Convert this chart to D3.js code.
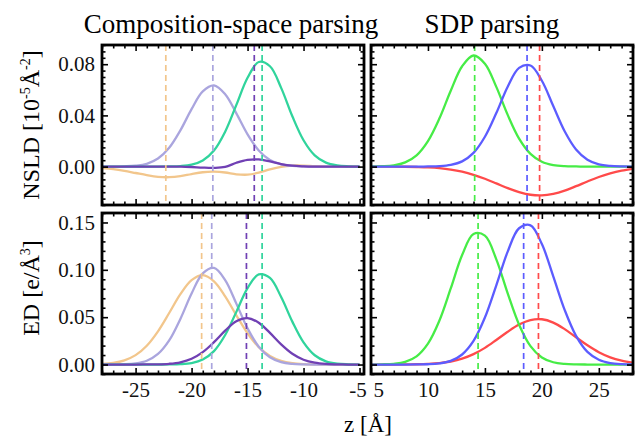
<!DOCTYPE html>
<html>
<head>
<meta charset="utf-8">
<script src="https://cdn.jsdelivr.net/npm/d3@7"></script>
<style>
  body { margin: 0; background: #fff; }
</style>
</head>
<body>
<svg id="chart"></svg>
<script>
// z grid of the sampled profiles (1 Å steps)
const zLeft = [-28, -27, -26, -25, -24, -23, -22, -21, -20, -19, -18, -17, -16, -15, -14, -13, -12, -11, -10, -9, -8, -7, -6, -5];
const zRight = [5, 6, 7, 8, 9, 10, 11, 12, 13, 14, 15, 16, 17, 18, 19, 20, 21, 22, 23, 24, 25, 26, 27, 28];

// NSLD, composition-space parsing (left top)
const nsldOrange = [-0.0012, -0.0020, -0.0033, -0.0050, -0.0067, -0.0080, -0.0083, -0.0075, -0.0058, -0.0044, -0.0040, -0.0046, -0.0060, -0.0063, -0.0048, -0.0022, -0.0002, 0.0008, 0.0008, 0.0003, 0, 0, 0, 0];
const nsldLightPurple = [0, 0, 0.0002, 0.0007, 0.0022, 0.0063, 0.0147, 0.0283, 0.0449, 0.0587, 0.0634, 0.0565, 0.0416, 0.0252, 0.0126, 0.0052, 0.0018, 0.0005, 0.0001, 0, 0, 0, 0, 0];
const nsldDarkPurple = [0, 0, 0, 0, 0, 0, 0, 0, -0.0003, -0.0008, -0.0010, -0.0003, 0.0030, 0.0053, 0.0056, 0.0040, 0.0020, 0.0007, 0.0002, 0, 0, 0, 0, 0];
const nsldTeal = [0, 0, 0, 0, 0, 0, 0.0001, 0.0004, 0.0015, 0.0048, 0.0126, 0.0273, 0.0482, 0.0694, 0.0817, 0.0784, 0.0615, 0.0393, 0.0206, 0.0088, 0.0031, 0.0009, 0.0002, 0];

// NSLD, SDP parsing (right top)
const nsldGreen = [0.0001, 0.0003, 0.0010, 0.0033, 0.0088, 0.0199, 0.0375, 0.0593, 0.0784, 0.0868, 0.0804, 0.0623, 0.0404, 0.0219, 0.0100, 0.0038, 0.0012, 0.0003, 0.0001, 0, 0, 0, 0, 0];
const nsldBlue = [0, 0, 0, 0, 0, 0.0001, 0.0003, 0.0013, 0.0041, 0.0107, 0.0233, 0.0418, 0.0624, 0.0771, 0.0790, 0.0671, 0.0473, 0.0276, 0.0134, 0.0054, 0.0018, 0.0005, 0.0001, 0];
const nsldRed = [0, 0, 0, -0.0001, -0.0003, -0.0006, -0.0012, -0.0023, -0.0040, -0.0064, -0.0095, -0.0131, -0.0168, -0.0199, -0.0220, -0.0225, -0.0213, -0.0188, -0.0153, -0.0116, -0.0081, -0.0053, -0.0032, -0.0018];

// ED, composition-space parsing (left bottom)
const edOrange = [0.0006, 0.0017, 0.0044, 0.0099, 0.0199, 0.0351, 0.0544, 0.0743, 0.0892, 0.0944, 0.0879, 0.0720, 0.0520, 0.0330, 0.0184, 0.0091, 0.0039, 0.0015, 0.0005, 0.0002, 0, 0, 0, 0];
const edLightPurple = [0, 0.0001, 0.0003, 0.0012, 0.0040, 0.0112, 0.0255, 0.0482, 0.0750, 0.0963, 0.1020, 0.0892, 0.0643, 0.0382, 0.0188, 0.0076, 0.0025, 0.0007, 0.0002, 0, 0, 0, 0, 0];
const edDarkPurple = [0, 0, 0, 0, 0.0001, 0.0002, 0.0008, 0.0024, 0.0061, 0.0131, 0.0236, 0.0358, 0.0457, 0.0490, 0.0441, 0.0334, 0.0213, 0.0114, 0.0051, 0.0019, 0.0006, 0.0002, 0, 0];
const edTeal = [0, 0, 0, 0, 0, 0, 0.0001, 0.0004, 0.0016, 0.0053, 0.0142, 0.0312, 0.0556, 0.0807, 0.0952, 0.0914, 0.0713, 0.0453, 0.0234, 0.0098, 0.0034, 0.0009, 0.0002, 0];

// ED, SDP parsing (right bottom)
const edGreen = [0, 0.0002, 0.0008, 0.0028, 0.0086, 0.0220, 0.0462, 0.0803, 0.1156, 0.1379, 0.1361, 0.1111, 0.0751, 0.0421, 0.0195, 0.0075, 0.0024, 0.0006, 0.0001, 0, 0, 0, 0, 0];
const edBlue = [0, 0, 0, 0, 0.0001, 0.0003, 0.0012, 0.0038, 0.0106, 0.0249, 0.0496, 0.0836, 0.1192, 0.1439, 0.1470, 0.1272, 0.0931, 0.0577, 0.0303, 0.0134, 0.0051, 0.0016, 0.0004, 0.0001];
const edRed = [0, 0, 0, 0.0001, 0.0003, 0.0007, 0.0015, 0.0032, 0.0062, 0.0110, 0.0176, 0.0259, 0.0346, 0.0422, 0.0470, 0.0478, 0.0443, 0.0374, 0.0288, 0.0203, 0.0130, 0.0076, 0.0041, 0.0020];

// dashed marker positions (z)
const nsldLeftMarks = [-22.3, -18.1, -14.4, -13.7];
const nsldRightMarks = [14.1, 18.7, 19.8];
const edLeftMarks = [-19.1, -18.2, -15.1, -13.7];
const edRightMarks = [14.4, 18.4, 19.7];

const leftTicks = [-25, -20, -15, -10, -5];
const rightTicks = [5, 10, 15, 20, 25];
const nsldTicks = [0.00, 0.04, 0.08];
const edTicks = [0.00, 0.05, 0.10, 0.15];

const colors = {
  orange: '#f2c68c', lightPurple: '#aaa5de', darkPurple: '#7040b4', teal: '#30d49c',
  green: '#46ec46', blue: '#5c5cff', red: '#ff4a4a'
};

const serif = "'Liberation Serif', 'DejaVu Serif', serif";
const width = 636;
const height = 439;
const svg = d3.select('svg#chart').attr('width', width).attr('height', height)
  .style('font-family', serif);

// scales
const xLeft = d3.scaleLinear().domain([-28, -4.6]).range([102, 364]);
const xRight = d3.scaleLinear().domain([5, 28]).range([371, 633]);
const yTop = d3.scaleLinear().domain([-0.03, 0.095]).range([205, 45]);
const yBot = d3.scaleLinear().domain([-0.01, 0.16]).range([374, 213]);

const panels = [
  { id: 'tl', x: xLeft, y: yTop, z: zLeft, marks: nsldLeftMarks,
    series: [[nsldOrange, 'orange'], [nsldLightPurple, 'lightPurple'], [nsldTeal, 'teal'], [nsldDarkPurple, 'darkPurple']],
    markColors: ['orange', 'lightPurple', 'darkPurple', 'teal'], yMinor: 0.005, yLabels: nsldTicks, xLabels: null },
  { id: 'tr', x: xRight, y: yTop, z: zRight, marks: nsldRightMarks,
    series: [[nsldRed, 'red'], [nsldGreen, 'green'], [nsldBlue, 'blue']],
    markColors: ['green', 'blue', 'red'], yMinor: 0.005, yLabels: null, xLabels: null },
  { id: 'bl', x: xLeft, y: yBot, z: zLeft, marks: edLeftMarks,
    series: [[edOrange, 'orange'], [edLightPurple, 'lightPurple'], [edTeal, 'teal'], [edDarkPurple, 'darkPurple']],
    markColors: ['orange', 'lightPurple', 'darkPurple', 'teal'], yMinor: 0.01, yLabels: edTicks, xLabels: leftTicks },
  { id: 'br', x: xRight, y: yBot, z: zRight, marks: edRightMarks,
    series: [[edRed, 'red'], [edGreen, 'green'], [edBlue, 'blue']],
    markColors: ['green', 'blue', 'red'], yMinor: 0.01, yLabels: null, xLabels: rightTicks }
];

const defs = svg.append('defs');

panels.forEach(p => {
  const [x0, x1] = p.x.range();
  const [y1, y0] = p.y.range();
  const g = svg.append('g').attr('id', 'panel-' + p.id);

  defs.append('clipPath').attr('id', 'clip-' + p.id)
    .append('rect').attr('x', x0).attr('y', y0).attr('width', x1 - x0).attr('height', y1 - y0);

  const plot = g.append('g').attr('clip-path', 'url(#clip-' + p.id + ')');

  const line = d3.line()
    .x((d, i) => p.x(p.z[i]))
    .y(d => p.y(d))
    .curve(d3.curveCatmullRom);

  plot.selectAll('path.curve').data(p.series).enter().append('path')
    .attr('class', 'curve')
    .attr('d', d => line(d[0]))
    .attr('fill', 'none')
    .attr('stroke', d => colors[d[1]])
    .attr('stroke-width', 2.3);

  plot.selectAll('line.mark').data(p.marks).enter().append('line')
    .attr('class', 'mark')
    .attr('x1', d => p.x(d)).attr('x2', d => p.x(d))
    .attr('y1', y0).attr('y2', y1)
    .attr('stroke', (d, i) => colors[p.markColors[i]])
    .attr('stroke-width', 1.7)
    .attr('stroke-dasharray', '6,4');

  // ticks on all four sides, pointing inwards
  const xDom = p.x.domain();
  const xMajor = d3.range(Math.ceil(xDom[0] / 5) * 5, xDom[1] + 1e-9, 5);
  const xMinor = d3.range(Math.ceil(xDom[0]), xDom[1] + 1e-9, 1).filter(v => v % 5 !== 0);
  const yDom = p.y.domain();
  const yStep = p.yMinor;
  const yAll = d3.range(Math.ceil(yDom[0] / yStep - 1e-6), Math.floor(yDom[1] / yStep + 1e-6) + 1).map(k => +(k * yStep).toFixed(4));
  const yMajorStep = p.y === yTop ? 0.04 : 0.05;
  const isMajorY = v => Math.abs(v / yMajorStep - Math.round(v / yMajorStep)) < 1e-6;

  const addAxis = (axisFn, scale, values, size, tx, ty) => {
    g.append('g').attr('transform', 'translate(' + tx + ',' + ty + ')')
      .call(axisFn(scale).tickValues(values).tickSize(size).tickFormat(''))
      .call(a => a.select('.domain').remove())
      .call(a => a.selectAll('line').attr('stroke', '#000').attr('stroke-width', 1.6));
  };
  addAxis(d3.axisBottom, p.x, xMajor, -6, 0, y1);
  addAxis(d3.axisBottom, p.x, xMinor, -3.5, 0, y1);
  addAxis(d3.axisTop, p.x, xMajor, -6, 0, y0);
  addAxis(d3.axisTop, p.x, xMinor, -3.5, 0, y0);
  addAxis(d3.axisLeft, p.y, yAll.filter(isMajorY), -6, x0, 0);
  addAxis(d3.axisLeft, p.y, yAll.filter(v => !isMajorY(v)), -3.5, x0, 0);
  addAxis(d3.axisRight, p.y, yAll.filter(isMajorY), -6, x1, 0);
  addAxis(d3.axisRight, p.y, yAll.filter(v => !isMajorY(v)), -3.5, x1, 0);

  g.append('rect')
    .attr('x', x0).attr('y', y0).attr('width', x1 - x0).attr('height', y1 - y0)
    .attr('fill', 'none').attr('stroke', '#000').attr('stroke-width', 2.8);

  if (p.yLabels) {
    const ya = g.append('g').attr('transform', 'translate(' + x0 + ',0)')
      .call(d3.axisLeft(p.y).tickValues(p.yLabels).tickSize(0).tickPadding(7).tickFormat(d3.format('.2f')));
    ya.select('.domain').remove();
    ya.attr('font-family', serif).attr('font-size', 21);
    ya.selectAll('text').style('font-family', serif).attr('fill', '#111');
  }
  if (p.xLabels) {
    const xa = g.append('g').attr('transform', 'translate(0,' + y1 + ')')
      .call(d3.axisBottom(p.x).tickValues(p.xLabels).tickSize(0).tickPadding(8).tickFormat(d => d));
    xa.select('.domain').remove();
    xa.attr('font-family', serif).attr('font-size', 21);
    xa.selectAll('text').style('font-family', serif).attr('fill', '#111');
    if (p.id === 'br') xa.selectAll('text').filter(d => d === 5).attr('text-anchor', 'start').attr('dx', 2);
    if (p.id === 'bl') xa.selectAll('text').filter(d => d === -5).attr('dx', -2);
  }
});

// titles
svg.append('text').attr('x', 231).attr('y', 33).attr('text-anchor', 'middle')
  .style('font-family', serif).attr('font-size', 27).text('Composition-space parsing');
svg.append('text').attr('x', 492).attr('y', 33).attr('text-anchor', 'middle')
  .style('font-family', serif).attr('font-size', 27).text('SDP parsing');

// y labels
const nsldLabel = svg.append('text').attr('text-anchor', 'middle').style('font-family', serif)
  .attr('transform', 'translate(39,125) rotate(-90)').attr('font-size', 24);
nsldLabel.append('tspan').text('NSLD [10');
nsldLabel.append('tspan').attr('dy', -9).attr('font-size', 14).text('-5');
nsldLabel.append('tspan').attr('dy', 9).text('Å');
nsldLabel.append('tspan').attr('dy', -9).attr('font-size', 14).text('-2');
nsldLabel.append('tspan').attr('dy', 9).text(']');

const edLabel = svg.append('text').attr('text-anchor', 'middle').style('font-family', serif)
  .attr('transform', 'translate(39,288) rotate(-90)').attr('font-size', 24);
edLabel.append('tspan').text('ED [e/Å');
edLabel.append('tspan').attr('dy', -9).attr('font-size', 14).text('3');
edLabel.append('tspan').attr('dy', 9).text(']');

// x label
svg.append('text').attr('x', 368).attr('y', 432).attr('text-anchor', 'middle')
  .style('font-family', serif).attr('font-size', 23).text('z [Å]');
</script>
</body>
</html>
